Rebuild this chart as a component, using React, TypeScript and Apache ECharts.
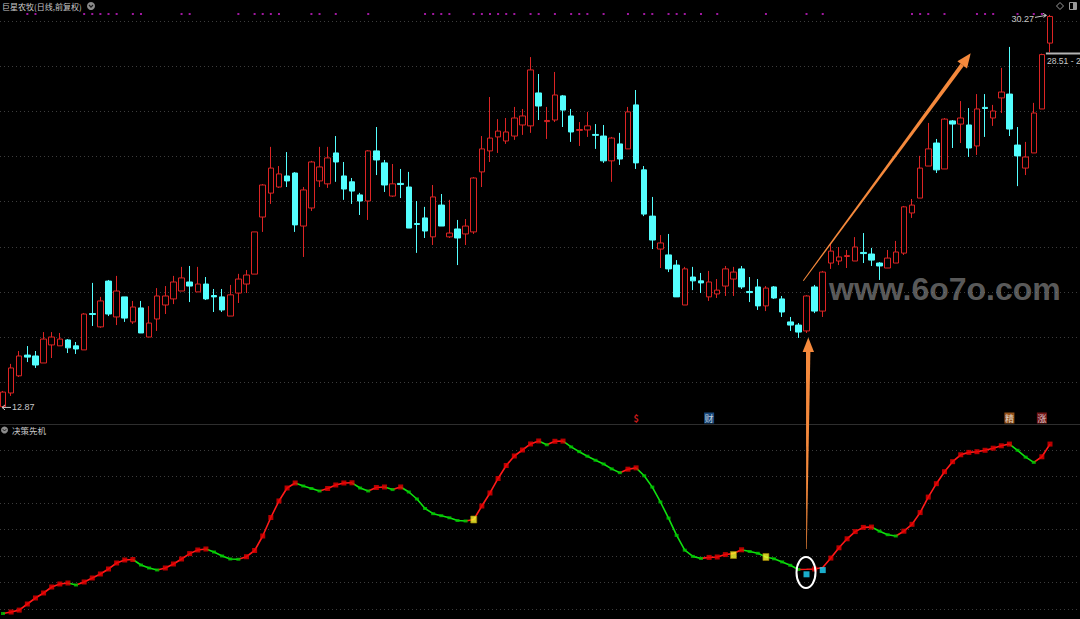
import React, { useEffect, useRef } from "react";
import * as echarts from "echarts";

// ---------- data ----------
const opens = [
  12.90, 13.51, 14.27, 15.19, 15.15, 14.84, 15.64, 15.60, 15.86, 15.60,
  15.42, 17.03, 16.44, 18.47, 16.88, 17.77, 16.66, 17.28, 15.99, 16.79,
  17.41, 17.68, 18.03, 18.43, 17.99, 18.34, 17.83, 17.77, 16.92, 17.94,
  18.34, 18.78, 21.31, 22.37, 22.64, 23.13, 23.26, 20.91, 21.71, 22.91,
  22.78, 24.15, 23.13, 22.87, 22.29, 22.02, 24.24, 23.71, 22.24, 22.80,
  22.64, 21.02, 21.27, 20.43, 21.84, 20.43, 20.78, 20.56, 20.65, 23.31,
  24.24, 24.86, 24.68, 24.90, 25.39, 25.35, 26.81, 25.54, 25.61, 26.68,
  25.79, 25.15, 25.17, 24.97, 24.90, 23.80, 24.55, 24.33, 26.28, 23.40,
  21.35, 19.89, 19.63, 19.18, 17.41, 18.65, 18.48, 17.77, 17.90, 18.25,
  18.56, 19.01, 18.01, 18.21, 17.37, 18.21, 17.68, 16.66, 16.52, 16.26,
  18.21, 17.14, 19.27, 19.36, 19.56, 19.36, 19.74, 19.67, 19.27, 19.05,
  19.27, 19.71, 21.49, 22.15, 23.57, 24.59, 23.44, 25.57, 25.43, 25.39,
  24.46, 26.17, 25.70, 26.59, 26.76, 24.50, 23.48, 24.15, 26.10, 29.02,
];
const closes = [
  13.55, 14.62, 15.15, 15.10, 14.75, 15.90, 15.99, 15.90, 15.51, 15.46,
  17.01, 16.99, 17.59, 17.01, 18.03, 16.83, 17.32, 16.17, 16.61, 17.81,
  17.81, 18.43, 18.61, 18.25, 18.34, 17.68, 17.77, 17.19, 17.86, 18.56,
  18.74, 20.65, 22.73, 23.48, 23.22, 22.91, 20.96, 22.51, 23.75, 23.53,
  23.93, 23.75, 22.55, 22.46, 22.02, 24.24, 23.84, 22.73, 22.78, 22.75,
  20.82, 20.98, 20.69, 22.20, 20.91, 20.60, 20.38, 20.91, 23.04, 24.33,
  24.81, 25.12, 25.08, 25.70, 25.79, 27.83, 26.23, 25.59, 26.72, 26.05,
  25.08, 25.19, 25.35, 24.93, 23.80, 24.81, 23.88, 25.97, 23.71, 21.44,
  20.29, 20.16, 19.01, 17.77, 19.01, 18.48, 18.39, 18.43, 18.07, 19.01,
  18.87, 18.21, 17.96, 17.37, 18.16, 17.72, 17.10, 16.52, 16.21, 17.81,
  17.14, 18.87, 19.80, 19.54, 19.60, 19.98, 19.69, 19.40, 19.14, 19.49,
  19.76, 21.76, 21.84, 23.48, 24.33, 23.40, 25.65, 25.43, 25.70, 24.37,
  26.10, 26.12, 26.01, 26.85, 25.21, 24.02, 23.97, 25.92, 28.51, 30.20,
];
const lows = [
  12.87, 13.38, 14.22, 14.88, 14.62, 14.84, 15.06, 15.60, 15.28, 15.24,
  15.42, 16.48, 16.40, 16.92, 16.52, 16.66, 16.57, 16.17, 15.99, 16.26,
  17.01, 17.45, 18.03, 17.54, 17.99, 17.63, 17.10, 17.10, 16.92, 17.50,
  17.94, 18.78, 20.65, 21.89, 22.60, 22.64, 20.65, 19.54, 21.58, 22.64,
  22.60, 22.87, 22.07, 21.89, 21.40, 21.18, 23.17, 22.42, 22.20, 22.15,
  20.82, 19.72, 20.38, 20.07, 20.91, 20.38, 19.18, 20.07, 20.56, 22.64,
  23.75, 24.15, 24.55, 24.73, 24.95, 25.04, 25.61, 24.77, 25.52, 25.30,
  24.64, 24.46, 24.86, 24.33, 23.71, 22.87, 23.62, 24.33, 23.44, 21.35,
  19.89, 19.05, 18.87, 17.77, 17.41, 18.07, 17.94, 17.59, 17.72, 17.81,
  17.81, 18.12, 17.54, 17.19, 17.14, 17.68, 16.88, 16.26, 15.95, 16.17,
  17.05, 16.88, 19.01, 19.18, 19.05, 19.36, 19.27, 19.14, 18.52, 19.05,
  19.27, 19.63, 21.27, 22.15, 23.57, 23.26, 23.44, 24.37, 24.59, 23.97,
  24.06, 24.86, 25.35, 25.92, 24.90, 22.68, 23.17, 24.15, 26.10, 28.62,
];
const highs = [
  13.60, 14.80, 15.37, 15.59, 15.37, 16.21, 16.21, 16.17, 15.90, 15.77,
  17.05, 18.39, 17.77, 18.52, 18.70, 17.77, 17.59, 17.59, 17.36, 18.16,
  18.25, 18.70, 19.10, 19.14, 19.10, 18.65, 18.12, 18.12, 18.30, 18.79,
  18.96, 20.65, 22.77, 24.42, 23.57, 24.19, 23.30, 22.64, 23.80, 24.42,
  24.42, 24.90, 23.75, 23.04, 22.38, 24.28, 25.30, 23.84, 23.66, 23.44,
  23.31, 22.02, 21.76, 22.73, 22.33, 22.07, 21.18, 21.22, 23.08, 24.90,
  26.63, 25.65, 25.70, 26.19, 26.10, 28.40, 27.65, 26.19, 27.74, 26.72,
  26.10, 25.52, 25.97, 25.43, 25.39, 24.86, 25.04, 26.19, 26.94, 23.57,
  22.20, 20.51, 20.56, 19.40, 19.10, 19.10, 18.83, 18.92, 18.56, 19.14,
  19.10, 19.14, 18.65, 18.56, 18.25, 18.25, 17.81, 16.88, 16.61, 17.85,
  18.30, 18.92, 20.16, 19.98, 19.85, 20.42, 20.60, 19.94, 19.31, 19.85,
  20.25, 21.80, 22.11, 24.02, 25.48, 24.77, 25.70, 25.61, 26.45, 26.14,
  26.76, 26.76, 26.28, 27.92, 28.85, 25.30, 24.64, 26.37, 28.55, 30.27,
];
// indicator "决策先机"
const indicator = [
  8.19, 8.75, 9.47, 11.77, 14.04, 15.93, 18.19, 19.32, 19.70, 18.94,
  20.08, 21.59, 23.10, 24.99, 27.25, 28.38, 28.57, 26.49, 25.36, 24.61,
  25.36, 26.87, 28.76, 30.79, 32.15, 32.53, 31.40, 29.89, 28.76, 28.65,
  29.62, 31.96, 37.44, 44.42, 50.65, 55.55, 57.44, 56.31, 55.36, 54.42,
  55.36, 56.68, 57.44, 57.51, 55.55, 54.42, 55.74, 55.93, 54.95, 55.93,
  54.04, 51.40, 47.82, 45.85, 45.10, 44.31, 43.29, 43.10, 43.66, 48.76,
  53.67, 59.14, 64.04, 67.63, 69.89, 72.16, 73.29, 71.86, 73.18, 73.25,
  71.06, 69.25, 67.55, 66.01, 64.61, 62.76, 61.33, 62.65, 63.14, 60.16,
  55.89, 50.27, 44.19, 37.66, 32.08, 29.74, 28.98, 29.36, 29.51, 30.42,
  30.83, 32.23, 31.59, 30.91, 29.51, 28.83, 27.66, 26.38, 24.79, 24.87,
  24.98, 25.55, 29.10, 32.98, 36.38, 39.10, 40.68, 40.80, 39.25, 37.93,
  37.44, 39.25, 41.85, 46.27, 52.12, 57.18, 61.70, 65.48, 68.08, 68.99,
  69.25, 69.78, 70.57, 71.48, 72.12, 69.78, 67.18, 65.21, 67.33, 72.12,
];
const yellowDays = [58, 90, 94];
const yellowValues = [43.66, 30.27, 29.51];
const cyanDays = [99, 101];
const cyanValues = [22.98, 24.57];
const dotDays = [
  3, 4, 10, 11, 12, 13, 14, 16, 17, 22, 23, 29, 31, 32, 33, 34, 38, 39, 41, 45,
  52, 53, 54, 55, 58, 59, 60, 61, 62, 63, 65, 66, 68, 70, 71, 72, 74, 77, 79, 80,
  82, 83, 84, 86, 88, 94, 99, 101, 112, 113, 114, 116, 120, 121, 122, 125, 127, 128,
];
const signalDays = [78, 87, 124, 128];
const signalChars = ["$", "财", "精", "涨"];
const signalBoxColors = ["", "#1d5a9c", "#b8641e", "#8e1a1a"];
const priceGridLevels = [14, 16, 18, 20, 22, 24, 26, 28, 30];
const indicatorGridLevels = [10, 20, 30, 40, 50, 60, 70];
const days = opens.map((_, i) => "D" + (i + 1));

const RED = "#dc2424";
const CYAN = "#54ffff";
const CJK = '"Noto Sans CJK SC", "Noto Sans", sans-serif';
const NUM = '"Liberation Sans", Arial, sans-serif';

export default function App() {
  const ref = useRef<HTMLDivElement>(null);

  useEffect(() => {
    document.body.style.margin = "0";
    document.body.style.background = "#000";
    if (!ref.current) return;
    const chart = echarts.init(ref.current, undefined, { renderer: "svg" });
    const N = opens.length;
    const special = new Set([...yellowDays, ...cyanDays]);
    const up = indicator.map((v, i) => i > 0 && v >= indicator[i - 1]);

    const runs: { a: number; b: number; up: boolean }[] = [];
    for (let i = 1; i < N; i++) {
      const last = runs[runs.length - 1];
      if (last && last.up === up[i]) last.b = i;
      else runs.push({ a: i - 1, b: i, up: up[i] });
    }

    const gridCommon = { left: 3, right: 30 };
    const xAxisBase = (g: number) => ({
      type: "category" as const,
      data: days,
      boundaryGap: false,
      gridIndex: g,
      show: false,
    });

    const runSeries = runs.map((r) => ({
      type: "line",
      xAxisIndex: 1,
      yAxisIndex: 1,
      data: indicator.map((v, i) => (i >= r.a && i <= r.b ? v : null)),
      symbol: "none",
      connectNulls: false,
      lineStyle: { color: r.up ? "#ff1a1a" : "#10e010", width: 1.6 },
      silent: true,
      z: 3,
    }));

    const upPts: number[][] = [];
    const downPts: number[][] = [];
    indicator.forEach((v, i) => {
      if (special.has(i)) return;
      if (up[i]) upPts.push([i, v]);
      else downPts.push([i, v]);
    });

    const option: any = {
      animation: false,
      backgroundColor: "#000",
      grid: [
        { ...gridCommon, top: 0, height: 424 },
        { ...gridCommon, top: 424, height: 195 },
        { ...gridCommon, top: 10, height: 8 },
        { ...gridCommon, top: 412, height: 12 },
      ],
      xAxis: [xAxisBase(0), xAxisBase(1), xAxisBase(2), xAxisBase(3)],
      yAxis: [
        { type: "value", gridIndex: 0, min: 12.135, max: 30.93, show: false },
        { type: "value", gridIndex: 1, min: 6.113, max: 79.7, show: false },
        { type: "value", gridIndex: 2, min: 0, max: 2, show: false },
        { type: "value", gridIndex: 3, min: 0, max: 2, show: false },
      ],
      series: [
        {
          type: "candlestick",
          xAxisIndex: 0,
          yAxisIndex: 0,
          data: opens.map((o, i) => [o, closes[i], lows[i], highs[i]]),
          barWidth: 6,
          clip: false,
          silent: true,
          itemStyle: {
            color: "#000",
            color0: CYAN,
            borderColor: RED,
            borderColor0: CYAN,
            borderWidth: 1,
          },
        },
        ...runSeries,
        {
          type: "scatter",
          xAxisIndex: 1,
          yAxisIndex: 1,
          data: upPts,
          symbol: "rect",
          symbolSize: [5, 5],
          itemStyle: { color: "#e60000" },
          silent: true,
          z: 4,
        },
        {
          type: "scatter",
          xAxisIndex: 1,
          yAxisIndex: 1,
          data: downPts,
          symbol: "rect",
          symbolSize: [4, 3],
          itemStyle: { color: "#00c800" },
          silent: true,
          z: 4,
        },
        {
          type: "scatter",
          xAxisIndex: 1,
          yAxisIndex: 1,
          data: yellowDays.map((d, i) => [d, yellowValues[i]]),
          symbol: "rect",
          symbolSize: [6, 7],
          itemStyle: { color: "#ffff30", borderColor: "#a08000", borderWidth: 0.8 },
          silent: true,
          z: 5,
        },
        {
          type: "scatter",
          xAxisIndex: 1,
          yAxisIndex: 1,
          data: cyanDays.map((d, i) => [d, cyanValues[i]]),
          symbol: "rect",
          symbolSize: [6, 6],
          itemStyle: { color: "#20d8ff" },
          silent: true,
          z: 5,
        },
        {
          type: "scatter",
          xAxisIndex: 2,
          yAxisIndex: 2,
          data: dotDays.map((d) => [d, 1]),
          symbol: "rect",
          symbolSize: [2, 2],
          itemStyle: { color: "#c81ec8" },
          silent: true,
        },
        {
          type: "scatter",
          xAxisIndex: 3,
          yAxisIndex: 3,
          silent: true,
          data: signalDays.map((d, i) => ({
            value: [d, 1],
            symbol: "rect",
            symbolSize: signalBoxColors[i] ? [10, 11] : 0,
            itemStyle: { color: signalBoxColors[i] || "transparent" },
            label: {
              show: true,
              position: "inside",
              formatter: signalChars[i],
              color: signalBoxColors[i] ? "#f0f0f0" : "#ff2020",
              fontSize: 9,
              fontWeight: signalBoxColors[i] ? "normal" : "bold",
              fontFamily: CJK,
            },
          })),
        },
      ],
    };
    chart.setOption(option);

    // ---------- overlays positioned through the chart's scales ----------
    const g: any[] = [];
    const dotted = { stroke: "#3c3c3c", lineWidth: 1, lineDash: [1, 3] };
    priceGridLevels.forEach((lv) => {
      const y = Math.round(chart.convertToPixel({ yAxisIndex: 0 }, lv) as number) + 0.5;
      g.push({ type: "line", shape: { x1: 0, y1: y, x2: 1080, y2: y }, style: dotted, silent: true, z: 0 });
    });
    indicatorGridLevels.forEach((lv) => {
      const y = Math.round(chart.convertToPixel({ yAxisIndex: 1 }, lv) as number) + 0.5;
      g.push({ type: "line", shape: { x1: 0, y1: y, x2: 1080, y2: y }, style: dotted, silent: true, z: 0 });
    });
    // panel separator
    g.push({
      type: "line",
      shape: { x1: 0, y1: 424.5, x2: 1080, y2: 424.5 },
      style: { stroke: "#2e2e2e", lineWidth: 1 },
      z: 1,
    });
    // titles
    g.push({
      type: "text",
      x: 2,
      y: 6,
      style: { text: "巨星农牧(日线,前复权)", fill: "#c8c8c8", font: `8px ${CJK}`, verticalAlign: "middle", textVerticalAlign: "middle" },
      z: 10,
    });
    g.push({ type: "circle", shape: { cx: 91, cy: 6, r: 4 }, style: { fill: "#8c8c8c" }, z: 10 });
    g.push({
      type: "polyline",
      shape: { points: [[89, 5], [91, 7.2], [93, 5]] },
      style: { stroke: "#1a1a1a", lineWidth: 1.2, fill: "none" },
      z: 11,
    });
    g.push({ type: "circle", shape: { cx: 4.5, cy: 430, r: 3.5 }, style: { fill: "#8c8c8c" }, z: 10 });
    g.push({
      type: "polyline",
      shape: { points: [[2.8, 429.2], [4.5, 431], [6.2, 429.2]] },
      style: { stroke: "#1a1a1a", lineWidth: 1, fill: "none" },
      z: 11,
    });
    g.push({
      type: "text",
      x: 12,
      y: 430,
      style: { text: "决策先机", fill: "#c8c8c8", font: `8.5px ${CJK}`, verticalAlign: "middle", textVerticalAlign: "middle" },
      z: 10,
    });
    // top right icons
    g.push({
      type: "polygon",
      shape: { points: [[1060, 2.5], [1063.5, 6], [1060, 9.5], [1056.5, 6]] },
      style: { stroke: "#9a9a9a", fill: "none", lineWidth: 1 },
      z: 10,
    });
    g.push({ type: "rect", shape: { x: 1069.5, y: 2.5, width: 7, height: 7 }, style: { stroke: "#9a9a9a", fill: "none", lineWidth: 1 }, z: 10 });
    g.push({ type: "rect", shape: { x: 1073, y: 3, width: 3.5, height: 6 }, style: { fill: "#9a9a9a" }, z: 10 });

    // max high / min low labels
    let hi = 0;
    let lo = 0;
    highs.forEach((h, i) => { if (h > highs[hi]) hi = i; });
    lows.forEach((l, i) => { if (l < lows[lo]) lo = i; });
    const pHi = chart.convertToPixel({ gridIndex: 0 }, [hi, highs[hi]]) as number[];
    const pLo = chart.convertToPixel({ gridIndex: 0 }, [lo, lows[lo]]) as number[];
    g.push({
      type: "text",
      x: pHi[0] - 16,
      y: pHi[1] + 4,
      style: { text: highs[hi].toFixed(2), fill: "#c8c8c8", font: `9px ${NUM}`, align: "right", textAlign: "right", verticalAlign: "middle", textVerticalAlign: "middle" },
      z: 10,
    });
    g.push({
      type: "polyline",
      shape: { points: [[pHi[0] - 15, pHi[1] + 2.5], [pHi[0] - 4, pHi[1] + 0.5]] },
      style: { stroke: "#c8c8c8", lineWidth: 1, fill: "none" },
      z: 10,
    });
    g.push({
      type: "polyline",
      shape: { points: [[pHi[0] - 7, pHi[1] - 1.5], [pHi[0] - 3.5, pHi[1] + 0.5], [pHi[0] - 6.5, pHi[1] + 2.5]] },
      style: { stroke: "#c8c8c8", lineWidth: 1, fill: "none" },
      z: 10,
    });
    g.push({
      type: "text",
      x: pLo[0] + 9,
      y: pLo[1],
      style: { text: lows[lo].toFixed(2), fill: "#c8c8c8", font: `9px ${NUM}`, verticalAlign: "middle", textVerticalAlign: "middle" },
      z: 10,
    });
    g.push({
      type: "line",
      shape: { x1: pLo[0] - 1, y1: pLo[1], x2: pLo[0] + 8, y2: pLo[1] },
      style: { stroke: "#c8c8c8", lineWidth: 1 },
      z: 10,
    });
    g.push({
      type: "polyline",
      shape: { points: [[pLo[0] + 2, pLo[1] - 2.5], [pLo[0] - 1, pLo[1]], [pLo[0] + 2, pLo[1] + 2.5]] },
      style: { stroke: "#c8c8c8", lineWidth: 1, fill: "none" },
      z: 10,
    });
    // last price tag at the right edge
    const pLast = chart.convertToPixel({ gridIndex: 0 }, [N - 2, closes[N - 2]]) as number[];
    g.push({
      type: "line",
      shape: { x1: pLast[0] + 4, y1: pLast[1] - 1, x2: 1080, y2: pLast[1] - 1 },
      style: { stroke: "#b4b4b4", lineWidth: 2 },
      z: 10,
    });
    g.push({
      type: "text",
      x: pLast[0] + 5,
      y: pLast[1] + 6.5,
      style: { text: closes[N - 2].toFixed(2) + " - 2", fill: "#c8c8c8", font: `8.6px ${NUM}`, verticalAlign: "middle", textVerticalAlign: "middle" },
      z: 10,
    });

    // watermark
    g.push({
      type: "text",
      x: 829,
      y: 289,
      style: {
        text: "www.6o7o.com",
        fill: "rgba(150,150,150,0.62)",
        font: `bold 32px "Liberation Sans", Arial, sans-serif`,
        verticalAlign: "middle",
        textVerticalAlign: "middle",
      },
      z: 12,
    });

    // hand-drawn orange arrows and white circle
    const OR = "#f5893c";
    g.push({
      type: "polygon",
      shape: { points: [[806, 351], [810.4, 351], [806.8, 549], [806.2, 549]] },
      style: { fill: OR },
      z: 20,
    });
    g.push({
      type: "polygon",
      shape: { points: [[802.6, 352], [808.3, 337.5], [814, 352]] },
      style: { fill: OR },
      z: 20,
    });
    g.push({
      type: "polygon",
      shape: { points: [[802.9, 280.4], [803.7, 281], [963.8, 66], [960.6, 63.6]] },
      style: { fill: OR },
      z: 20,
    });
    g.push({
      type: "polygon",
      shape: { points: [[957.4, 61.2], [970.7, 53.3], [967.0, 68.4]] },
      style: { fill: OR },
      z: 20,
    });
    g.push({
      type: "ellipse",
      shape: { cx: 806, cy: 572.5, rx: 9.5, ry: 15.5 },
      style: { stroke: "#ffffff", lineWidth: 2, fill: "none" },
      z: 20,
    });

    chart.setOption({ graphic: { elements: g } });

    return () => chart.dispose();
  }, []);

  return <div ref={ref} style={{ width: 1080, height: 619, background: "#000" }} />;
}
